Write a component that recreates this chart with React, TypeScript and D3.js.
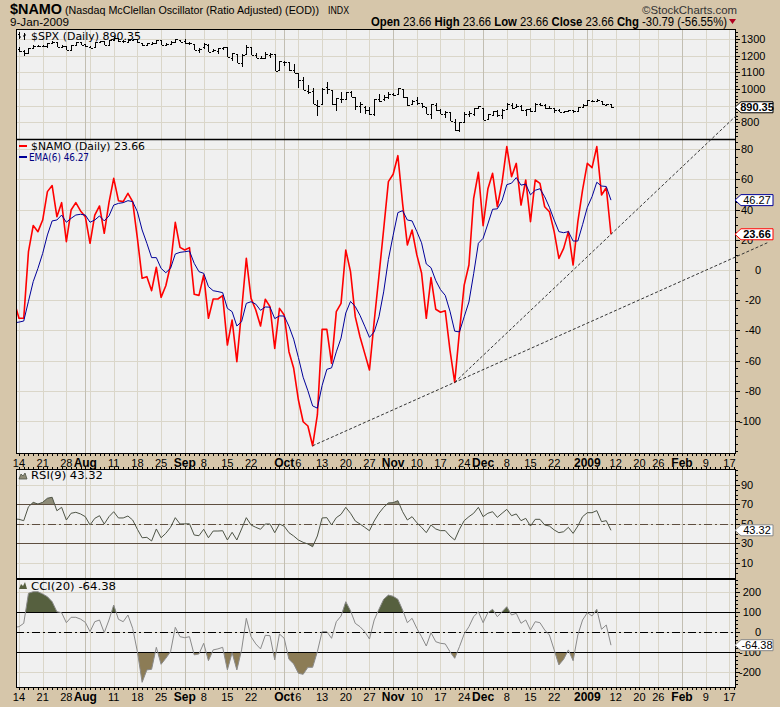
import React from "react";
import * as d3 from "d3";

// trading day index 0 = 11-Jul-2008 ... 126 = 9-Jan-2009
const spxOpen = [1253,1241,1227,1215,1246,1258,1261,1257,1278,1283,1253,1257,1236,1264,1282,1270,1253,1254,1283,1286,1266,1295,1304,1289,1283,1293,1298,1277,1267,1272,1278,1291,1267,1271,1283,1297,1287,1276,1271,1233,1250,1267,1227,1229,1245,1250,1188,1210,1157,1213,1255,1207,1188,1186,1204,1209,1113,1164,1160,1115,1097,1057,988,988,902,913,1009,995,909,943,943,981,952,900,895,875,849,939,939,953,969,971,1002,952,907,936,917,893,853,904,873,853,860,805,755,801,853,852,886,889,818,843,869,845,882,906,893,898,872,881,871,908,905,886,887,874,864,870,873,871,890,903,929,931,927,905,910];
const spxHigh = [1254,1254,1234,1246,1262,1263,1267,1277,1291,1283,1264,1260,1264,1285,1285,1270,1260,1285,1291,1286,1297,1313,1304,1294,1301,1302,1300,1277,1277,1280,1294,1291,1275,1289,1300,1297,1303,1281,1271,1244,1275,1269,1243,1249,1255,1250,1214,1210,1211,1266,1255,1219,1198,1221,1215,1209,1169,1167,1160,1153,1097,1072,1022,1005,936,1006,1045,995,948,985,985,986,952,922,896,893,941,970,963,984,975,1007,1003,952,932,951,917,893,913,917,882,866,865,821,801,865,868,888,897,889,850,871,876,879,918,917,911,905,881,884,914,918,911,898,887,880,869,874,874,891,911,935,937,943,927,911,912];
const spxLow = [1225,1225,1200,1211,1241,1251,1255,1249,1276,1251,1252,1234,1236,1264,1264,1254,1247,1254,1277,1265,1263,1294,1285,1275,1276,1290,1274,1261,1262,1265,1278,1264,1263,1270,1283,1282,1272,1265,1232,1218,1240,1224,1221,1211,1234,1192,1169,1156,1133,1213,1205,1188,1180,1186,1187,1106,1113,1140,1111,1098,1007,996,970,909,840,913,973,904,866,918,938,952,875,858,853,845,836,922,928,940,958,971,949,899,906,907,884,850,818,869,848,827,806,748,741,801,834,841,880,815,818,839,834,818,882,883,889,871,840,860,865,898,880,884,858,860,861,866,858,870,889,899,922,927,902,897,887];
const spxClose = [1239,1228,1215,1245,1260,1261,1260,1277,1282,1253,1258,1234,1263,1284,1267,1260,1249,1285,1289,1266,1296,1305,1290,1286,1293,1298,1279,1267,1275,1278,1292,1267,1272,1282,1301,1283,1278,1275,1237,1242,1268,1225,1232,1249,1252,1193,1214,1156,1207,1255,1207,1188,1186,1209,1213,1106,1166,1161,1114,1099,1057,996,985,910,899,1003,998,908,946,941,985,955,897,908,877,849,941,930,954,969,966,1006,953,905,931,919,899,852,911,873,851,859,807,752,800,852,857,888,896,816,849,871,845,876,910,889,899,874,880,869,913,904,885,888,872,863,868,873,869,891,903,932,927,935,907,910,890.35];

const namo = [-21,-32,-32,12.1,29.4,25.4,33.1,51.9,55.9,35.3,44.6,18.8,39.7,44.6,39.1,35.3,17.7,36.4,42.4,24.3,44.6,60.7,45.9,45.3,50.8,45.3,21,-5.5,-4.4,-13.7,1.8,-18.1,-10.4,3.3,31.6,15,13.2,14.8,-16.1,-16.8,-3.3,-32,-19.2,-19.2,-17,-49.7,-33.1,-60.7,-27,7.7,-18.8,-26.5,-37.1,-19.4,-24.3,-51.9,-25.4,-29.8,-54.1,-65.1,-86.1,-100.5,-103.3,-116.4,-96,-39.3,-39.3,-61.8,-27.6,-22.1,13.2,-1.1,-30.9,-44.2,-55.2,-66.2,-34,-4,27,58.5,63.4,75.7,44,16.6,26.5,10,-2,-32,-5,-26,-28,-27,-53,-74.4,-40.8,-10,3.3,47.5,64.7,29.4,53.6,64,41.9,58,81.7,61.8,70.6,43,59.6,32,59.6,57.4,41.9,38.6,25.4,7.7,14.3,25.4,3.3,32,53,70.6,67.8,81.7,49.7,54.45,23.66];
const namoEma = [-35,-34.5,-33.8,-20.7,-7.7,1.1,11,23.2,32.5,33.1,36.4,31.6,34.2,36.4,36.9,36.4,31.6,33.1,35.8,32.5,35.8,43,44.1,44.6,45.9,45.3,38.6,26.5,17.7,8.2,8.2,1.1,-1.8,1.1,10.6,11.7,12.1,12.6,4.4,-1.1,-2.2,-11,-13.7,-14.3,-15,-25.4,-27.6,-37.1,-34.2,-22.1,-21,-22.6,-26.7,-24.5,-24.6,-32.2,-30.4,-30.5,-37.2,-45.8,-58,-71,-80,-90,-91.5,-76.5,-65.8,-64.8,-54.2,-45.1,-28.5,-20.8,-24.2,-30,-37.2,-44.6,-41,-31,-14.5,7,23,38,39.3,33.1,32.5,25.5,18,4,1.5,-7,-13,-16.8,-27.3,-40.5,-41,-31,-21.2,-2.5,17.7,21,30.5,40.2,40.5,46,56.5,57.5,61.2,56.2,56.9,49.8,52.8,53.8,48.5,41.5,33.1,25.4,24.7,25.4,19.2,19.2,30,41.5,48.6,58.1,55.6,55.3,46.27];
const rsi = [55,54.6,53.2,67.5,72,70.3,72,76.2,77.2,63.4,66.9,53.9,60.8,61.8,60.1,57.3,48.8,55.6,58.3,49.8,57.3,62.4,56,56,58,53.9,44.4,35.7,36.1,32.4,44.7,35.7,40.2,46.4,56.3,49.8,50,50,38.5,37.8,44.4,35.7,42.6,42.6,42.9,33.4,41.3,33.4,44.7,56.3,48.8,46.4,44.4,49.8,49.8,40.9,49.8,47.5,40.9,37.5,33.4,31,29.3,26.5,37.5,56,56.3,48.8,56.3,59.7,66.9,60.8,52.9,49.8,46.4,42.9,52.9,60.8,66.9,71.4,71.7,73.7,62.4,53.9,57.3,51.1,46.4,40.9,48.8,44.7,43,43,37.5,33.4,44.4,53.2,57.3,60.8,66.9,57.3,60.8,62.4,56.6,60.8,64.8,58.3,60.1,53.2,55.6,47.7,54.6,54.6,48.8,47.7,43.7,40.9,41.9,46.4,40.2,47.7,57.3,61.4,61.4,63.5,52.2,53.2,43.32];
const cci = [25,28,44.8,195,203,203,191.5,178,153,103,98,48,75,75,66,50,3.3,53,61.5,-1.8,61.5,136.5,65,53,86.5,20,-97,-250,-188,-185,-75,-160,-130,-97,25,-22,-27,-22,-113,-108,-55,-142,-88,-83,-75,-188,-102,-188,-88,70,-22,-58,-83,-15,-17,-138,-8.5,-30,-135,-158,-205,-210,-175,-175,-97,3.3,3.3,-30,53,81.5,153,108,44.8,28,3.3,-33.5,61.5,115,165,186,180,165,111.5,48,70,20,-22,-68.5,-1.8,-47,-55,-58,-97,-130,-72,-8.5,28,78,103,48,98,115,78,103,128,86.5,95,45,61.5,11.5,53,48,11.5,-13.5,-88,-163,-135,-88,-142,-13.5,61.5,98,81.5,115,15,36.5,-64.38];

// x axis labels: [day index, label, month?]
const xLabels: [number, string, boolean][] = [
  [1, "14", false], [6, "21", false], [11, "28", false], [15, "Aug", true], [21, "11", false],
  [26, "18", false], [31, "25", false], [36, "Sep", true], [40, "8", false], [45, "15", false],
  [50, "22", false], [57, "Oct", true], [60, "6", false], [65, "13", false], [70, "20", false],
  [75, "27", false], [80, "Nov", true], [85, "10", false], [90, "17", false], [95, "24", false],
  [99, "Dec", true], [104, "8", false], [109, "15", false], [114, "22", false], [121, "2009", true],
  [127, "12", false], [132, "20", false], [136, "26", false], [141, "Feb", true], [146, "9", false],
  [151, "17", false],
];
const weekStarts = [1, 6, 11, 16, 21, 26, 31, 36, 40, 45, 50, 55, 60, 65, 70, 75, 80, 85, 90, 95, 99, 104, 109, 114, 118, 122, 127, 132, 136, 141, 146, 151];
const monthStarts = [15, 36, 57, 80, 99, 121, 141];

const spxTicks = [800, 900, 1000, 1100, 1200, 1300];
const spxLabels = [800, 1000, 1100, 1200, 1300];
const namoTicks = [-100, -80, -60, -40, -20, 0, 20, 40, 60, 80];
const rsiTicks = [10, 30, 50, 70, 90];
const cciTicks = [-200, -100, 0, 100, 200];

// trendlines: [start day, start value, through day, through value, end day]
const trendLines: [number, number, number, number, number][] = [
  [63, -116.4, 93, -74.4, 159],
  [93, -74.4, 126, 23.66, 152.6],
];

const TAN = "#D6C6AA";
const PANEL = "#F0F0F0";
const GRID = "#DAD6C9";
const GRID_DARK = "#C2BEB2";
const SANS = "'Liberation Sans', Arial, sans-serif";
const NARROW = "'Liberation Sans Narrow', 'Liberation Sans', Arial, sans-serif";
const VERD = "'DejaVu Sans', Verdana, sans-serif";

const L = 16;
const R = 736;
const x = d3.scaleLinear().domain([0, 152]).range([14.26, 734.13]);
const ySpx = d3.scaleLinear().domain([700, 1360]).range([139, 29]);
const yNamo = d3.scaleLinear().domain([-121.85, 86.75]).range([454, 139]);
const yRsi = d3.scaleLinear().domain([-6.6, 106.2]).range([579, 469]);
const yCci = d3.scaleLinear().domain([-278.5, 266.5]).range([688, 579]);

const days = d3.range(0, 153);

function panelGrid(top: number, bottom: number, y: d3.ScaleLinear<number, number>, ticks: number[]) {
  return (
    <g>
      <rect x={L} y={top} width={R - L} height={bottom - top} fill={PANEL} />
      {ticks.map((t) => (
        <line key={"h" + t} x1={L} x2={R} y1={Math.round(y(t)) + 0.5} y2={Math.round(y(t)) + 0.5} stroke={GRID} />
      ))}
      {weekStarts.map((k) => (
        <line key={"w" + k} x1={Math.round(x(k)) + 0.5} x2={Math.round(x(k)) + 0.5} y1={top} y2={bottom} stroke={GRID} />
      ))}
      {monthStarts.map((k) => (
        <line key={"m" + k} x1={Math.round(x(k)) + 0.5} x2={Math.round(x(k)) + 0.5} y1={top} y2={bottom} stroke={GRID_DARK} />
      ))}
    </g>
  );
}

function rightAxis(y: d3.ScaleLinear<number, number>, ticks: number[], labels: number[], minor: number[], anchor: (v: number) => "start" | "end") {
  return (
    <g fontFamily={SANS} fontSize={11} fill="#000">
      {minor.map((m) => (
        <line key={"n" + m} x1={R} x2={R + 2} y1={Math.round(y(m)) + 0.5} y2={Math.round(y(m)) + 0.5} stroke="#000" />
      ))}
      {ticks.map((t) => (
        <line key={"t" + t} x1={R} x2={R + 4} y1={Math.round(y(t)) + 0.5} y2={Math.round(y(t)) + 0.5} stroke="#000" />
      ))}
      {labels.map((t) => (
        <text key={"l" + t} x={anchor(t) === "start" ? 741 : 761} y={y(t) + 4} textAnchor={anchor(t)}>{t}</text>
      ))}
    </g>
  );
}

function tag(yc: number, text: string, color: string, bold: boolean) {
  const p = `M735,${yc} L741,${yc - 5.5} L773,${yc - 5.5} L773,${yc + 5.5} L741,${yc + 5.5} Z`;
  return (
    <g>
      <path d={p} fill="#fff" stroke={color} strokeWidth={1} />
      <text x={757} y={yc + 4} textAnchor="middle" fontFamily={SANS} fontSize={11} fontWeight={bold ? "bold" : "normal"} fill="#000">{text}</text>
    </g>
  );
}

function dayTicks(yy: number, dir: number) {
  return days.filter((k) => x(k) > L && x(k) < R).map((k) => (
    <line key={k} x1={Math.round(x(k)) + 0.5} x2={Math.round(x(k)) + 0.5} y1={yy} y2={yy + 2 * dir} stroke="#000" />
  ));
}

function xLabelRow(baseline: number) {
  return xLabels.map(([k, s, m]) => (
    <text key={k + s} x={x(k)} y={baseline} textAnchor="middle" fontFamily={SANS} fontSize={m ? 12 : 11} fontWeight={m ? "bold" : "normal"}>{s}</text>
  ));
}

export default function App() {
  const namoLine = d3.line<number>().x((_, i) => x(i)).y((d) => yNamo(d));
  const emaLine = d3.line<number>().x((_, i) => x(i)).y((d) => yNamo(d));
  const rsiLine = d3.line<number>().x((_, i) => x(i)).y((d) => yRsi(d));
  const cciLine = d3.line<number>().x((_, i) => x(i)).y((d) => yCci(d));
  const rsiArea = (base: number) => d3.area<number>().x((_, i) => x(i)).y0(yRsi(base)).y1((d) => yRsi(d))(rsi) || "";
  const cciArea = (base: number) => d3.area<number>().x((_, i) => x(i)).y0(yCci(base)).y1((d) => yCci(d))(cci) || "";

  const namoMinor = d3.range(-120, 87, 5);
  const spxMinor = d3.range(720, 1360, 20);
  const rsiMinor = d3.range(0, 106, 5);
  const cciMinor = d3.range(-260, 266, 20);

  return (
    <svg width={780} height={707} style={{ position: "absolute", left: 0, top: 0, display: "block" }}>
      <defs>
        <clipPath id="cSpx"><rect x={L} y={29} width={R - L} height={110} /></clipPath>
        <clipPath id="cNamo"><rect x={L} y={139} width={R - L} height={315} /></clipPath>
        <clipPath id="cRsi"><rect x={L} y={469} width={R - L} height={110} /></clipPath>
        <clipPath id="cRsiHi"><rect x={L} y={469} width={R - L} height={yRsi(70) - 469} /></clipPath>
        <clipPath id="cRsiLo"><rect x={L} y={yRsi(30)} width={R - L} height={579 - yRsi(30)} /></clipPath>
        <clipPath id="cCci"><rect x={L} y={579} width={R - L} height={109} /></clipPath>
        <clipPath id="cCciHi"><rect x={L} y={579} width={R - L} height={yCci(100) - 579} /></clipPath>
        <clipPath id="cCciLo"><rect x={L} y={yCci(-100)} width={R - L} height={688 - yCci(-100)} /></clipPath>
      </defs>
      <rect x={0} y={0} width={780} height={707} fill={TAN} />

      {/* header */}
      <text x={10} y={14} fontFamily={NARROW} fontSize={15} fontWeight="bold" textLength={52} lengthAdjust="spacingAndGlyphs">$NAMO</text>
      <text x={65} y={14} fontFamily={NARROW} fontSize={10.5} textLength={254} lengthAdjust="spacingAndGlyphs">(Nasdaq McClellan Oscillator (Ratio Adjusted) (EOD))</text>
      <text x={328} y={14} fontFamily={NARROW} fontSize={10} textLength={21} lengthAdjust="spacingAndGlyphs">INDX</text>
      <text x={642} y={14} fontFamily={NARROW} fontSize={11} fill="#333" textLength={95} lengthAdjust="spacingAndGlyphs">©StockCharts.com</text>
      <text x={10} y={26} fontFamily={NARROW} fontSize={11} textLength={59} lengthAdjust="spacingAndGlyphs">9-Jan-2009</text>
      <text x={371} y={26} fontFamily={NARROW} fontSize={12} textLength={356} lengthAdjust="spacingAndGlyphs">
        <tspan fontWeight="bold">Open</tspan> 23.66 <tspan fontWeight="bold">High</tspan> 23.66 <tspan fontWeight="bold">Low</tspan> 23.66 <tspan fontWeight="bold">Close</tspan> 23.66 <tspan fontWeight="bold">Chg</tspan> -30.79 (-56.55%)
      </text>
      <path d="M729,19 L736,19 L732.5,24 Z" fill="#B00020" />

      {/* SPX panel */}
      {panelGrid(29, 139, ySpx, spxTicks)}
      <g clipPath="url(#cSpx)" stroke="#000" strokeWidth={1} shapeRendering="crispEdges">
        {spxClose.map((c, k) => {
          const cx = Math.round(x(k)) + 0.5;
          return (
            <g key={k}>
              <line x1={cx} x2={cx} y1={ySpx(spxHigh[k])} y2={ySpx(spxLow[k])} />
              <line x1={cx - 2} x2={cx} y1={Math.round(ySpx(spxOpen[k])) + 0.5} y2={Math.round(ySpx(spxOpen[k])) + 0.5} />
              <line x1={cx} x2={cx + 2.5} y1={Math.round(ySpx(c)) + 0.5} y2={Math.round(ySpx(c)) + 0.5} />
            </g>
          );
        })}
      </g>
      <g stroke="#000" strokeWidth={1}>
        <path d="M19.5,32 V39 M18,34.5 H19.5 M19.5,37 H21 M24.5,33 V40 M23,36 H24.5 M24.5,35 H26" />
      </g>
      <text x={31} y={40} fontFamily={VERD} fontSize={11} textLength={110} lengthAdjust="spacingAndGlyphs">$SPX (Daily) 890.35</text>
      <rect x={L + 0.5} y={29.5} width={R - L - 1} height={110} fill="none" stroke="#000" />
      {rightAxis(ySpx, spxTicks, spxLabels, spxMinor, () => "start")}

      {/* NAMO panel */}
      {panelGrid(139, 454, yNamo, namoTicks)}
      <g clipPath="url(#cNamo)" fill="none">
        <path d={namoLine(namo) || ""} stroke="#FF0000" strokeWidth={1.6} strokeLinejoin="round" />
        <path d={emaLine(namoEma) || ""} stroke="#000099" strokeWidth={1} />
      </g>
      <line x1={19} x2={27} y1={146} y2={146} stroke="#FF0000" strokeWidth={2} />
      <text x={31} y={150} fontFamily={VERD} fontSize={11} textLength={114} lengthAdjust="spacingAndGlyphs">$NAMO (Daily) 23.66</text>
      <line x1={19} x2={27} y1={157} y2={157} stroke="#000099" strokeWidth={2} />
      <text x={29} y={161} fontFamily={VERD} fontSize={11} fill="#000080" textLength={60} lengthAdjust="spacingAndGlyphs">EMA(6) 46.27</text>
      <rect x={L + 0.5} y={139.5} width={R - L - 1} height={314} fill="none" stroke="#000" />
      <line x1={L} x2={R} y1={139.5} y2={139.5} stroke="#000" strokeWidth={1.5} />
      {rightAxis(yNamo, namoTicks, namoTicks, namoMinor, (v) => (v > 0 ? "start" : "end"))}

      {/* x axis strip under NAMO */}
      {dayTicks(454, 1)}
      {dayTicks(469, -1)}
      <g>{xLabelRow(467)}</g>

      {/* RSI panel */}
      {panelGrid(469, 579, yRsi, rsiTicks)}
      <path d={rsiArea(70)} fill="#8E8C78" clipPath="url(#cRsiHi)" />
      <path d={rsiArea(30)} fill="#8E8C78" clipPath="url(#cRsiLo)" />
      <line x1={L} x2={R} y1={Math.round(yRsi(70)) + 0.5} y2={Math.round(yRsi(70)) + 0.5} stroke="#5E4E40" />
      <line x1={L} x2={R} y1={Math.round(yRsi(30)) + 0.5} y2={Math.round(yRsi(30)) + 0.5} stroke="#5E4E40" />
      <line x1={L} x2={R} y1={Math.round(yRsi(50)) + 0.5} y2={Math.round(yRsi(50)) + 0.5} stroke="#5E4E40" strokeDasharray="8,3,2,3" />
      <path d={rsiLine(rsi) || ""} fill="none" stroke="#4E5446" strokeWidth={1} clipPath="url(#cRsi)" />
      <path d="M19,479 L21,474 L23,476 L25,473 L27,479 Z" fill="#8E8C78" stroke="#4E5446" strokeWidth={0.8} />
      <text x={31} y={479} fontFamily={VERD} fontSize={11} textLength={72} lengthAdjust="spacingAndGlyphs">RSI(9) 43.32</text>
      <rect x={L + 0.5} y={469.5} width={R - L - 1} height={109} fill="none" stroke="#000" />
      {rightAxis(yRsi, rsiTicks, rsiTicks, rsiMinor, () => "start")}

      {/* CCI panel */}
      {panelGrid(579, 688, yCci, cciTicks)}
      <path d={cciArea(100)} fill="#56603F" clipPath="url(#cCciHi)" />
      <path d={cciArea(-100)} fill="#8C7C56" clipPath="url(#cCciLo)" />
      <line x1={L} x2={R} y1={Math.round(yCci(100)) + 0.5} y2={Math.round(yCci(100)) + 0.5} stroke="#000" />
      <line x1={L} x2={R} y1={Math.round(yCci(-100)) + 0.5} y2={Math.round(yCci(-100)) + 0.5} stroke="#000" />
      <line x1={L} x2={R} y1={Math.round(yCci(0)) + 0.5} y2={Math.round(yCci(0)) + 0.5} stroke="#000" strokeDasharray="8,3,2,3" />
      <path d={cciLine(cci) || ""} fill="none" stroke="#8A8A8A" strokeWidth={1} clipPath="url(#cCci)" />
      <path d="M19,589 L21,584 L23,586 L25,582 L27,589 Z" fill="#56603F" />
      <text x={31} y={590} fontFamily={VERD} fontSize={11} textLength={85} lengthAdjust="spacingAndGlyphs">CCI(20) -64.38</text>
      <rect x={L + 0.5} y={579.5} width={R - L - 1} height={108} fill="none" stroke="#000" />
      {rightAxis(yCci, cciTicks, cciTicks, cciMinor, () => "end")}

      {/* bottom axis */}
      {dayTicks(688, 1)}
      <g>{xLabelRow(701)}</g>

      {/* trendlines */}
      <g stroke="#333" strokeWidth={1} strokeDasharray="3,2" fill="none">
        {trendLines.map(([k1, v1, k2, v2, kEnd], i) => {
          const slope = (v2 - v1) / (k2 - k1);
          const vEnd = v1 + slope * (kEnd - k1);
          return <line key={i} x1={x(k1)} y1={yNamo(v1)} x2={x(kEnd)} y2={yNamo(vEnd)} />;
        })}
      </g>

      {/* value tags */}
      {tag(ySpx(890.35), "890.35", "#000", true)}
      {tag(yNamo(46.27), "46.27", "#000099", false)}
      {tag(yNamo(23.66), "23.66", "#FF0000", true)}
      {tag(yRsi(43.32), "43.32", "#888", false)}
      {tag(yCci(-64.38), "-64.38", "#888", false)}
    </svg>
  );
}
